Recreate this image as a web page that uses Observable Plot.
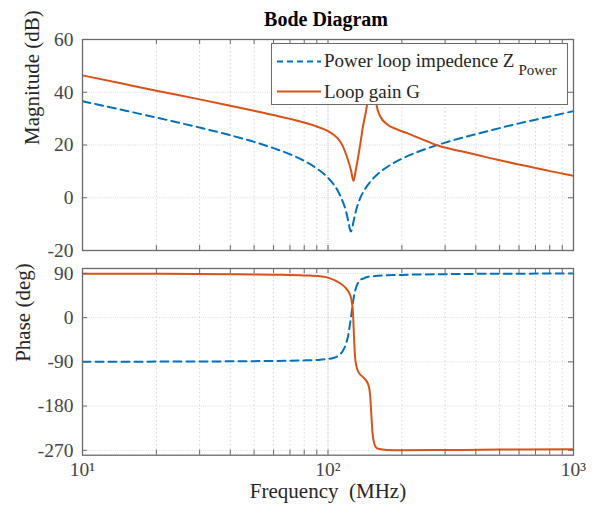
<!DOCTYPE html>
<html><head><meta charset="utf-8">
<script src="https://cdn.jsdelivr.net/npm/d3@7"></script>
<script src="https://cdn.jsdelivr.net/npm/@observablehq/plot@0.6"></script>
<style>
body{margin:0;background:#fff;}
#wrap{position:relative;width:598px;height:519px;font-family:"Liberation Serif",serif;overflow:hidden;}
#title{position:absolute;left:326px;top:9px;transform:translateX(-50%);font-weight:bold;font-size:20px;line-height:20px;color:#000;white-space:nowrap;}
#legend{position:absolute;left:271px;top:43px;width:297px;height:62px;box-sizing:border-box;border:1px solid #6b6b6b;background:#fff;}
#legend svg{position:absolute;left:0;top:0;}
</style></head>
<body>
<div id="wrap">
  <div id="title">Bode Diagram</div>
</div>
<script>
// ---------- data ----------
const seriesNames = ["Power loop impedence Z", "Loop gain G"];
const subscriptText = "Power";

// Power loop impedance Z – magnitude (MHz, dB)
const zFreq = [10, 15, 20, 30, 40, 50, 60, 70, 80, 90, 100, 105, 110, 115, 118, 121, 123, 124, 125, 127, 130, 135, 140, 150, 160, 180, 200, 250, 300, 400, 500, 600, 700, 800, 900, 1000];
const zMag  = [36.6, 33.0, 30.4, 26.6, 23.7, 21.2, 18.8, 16.5, 14.0, 11.1, 7.6, 5.3, 2.4, -1.6, -4.6, -9.0, -12.2, -12.8, -12.1, -9.1, -4.9, -0.3, 2.6, 6.5, 9.1, 12.5, 14.8, 18.5, 20.9, 24.1, 26.4, 28.2, 29.6, 30.8, 31.9, 32.8];

// Loop gain G – magnitude (MHz, dB)
const gFreq = [10, 15, 20, 30, 40, 50, 60, 70, 80, 90, 100, 105, 110, 115, 120, 124, 127, 130, 135, 139, 144, 147, 150, 153, 156, 158, 163, 174, 190, 210, 250, 282, 350, 418, 500, 600, 700, 800, 900, 1000];
const gMag  = [46.4, 43.0, 40.6, 37.3, 34.9, 33.0, 31.4, 29.9, 28.5, 27.0, 25.3, 24.0, 22.3, 19.5, 15.0, 10.5, 6.4, 10.9, 19.7, 27.3, 34.8, 42, 50, 48, 40, 34.8, 31.0, 27.9, 26.0, 24.5, 21.6, 19.7, 17.6, 15.9, 14.2, 12.6, 11.3, 10.1, 9.2, 8.3];

// Z phase (MHz, deg)
const zpFreq = [10, 20, 50, 80, 93, 100, 105, 110, 113, 116, 119, 121, 123, 125, 127, 129.5, 132, 135, 140, 146, 160, 200, 300, 500, 1000];
const zPhase = [-89.8, -89.5, -88.6, -87, -85.5, -84, -82, -78, -73, -64, -50, -35, -12, 12, 38, 58, 69, 76, 80, 83, 85, 87, 88.5, 89.3, 89.8];

// G phase (MHz, deg)
const gpFreq = [10, 20, 40, 60, 80, 93, 102, 112, 119.6, 123, 124.6, 126.6, 127.6, 128.8, 131, 133.5, 139.5, 144.6, 147, 148.5, 150, 151.7, 154.5, 157, 160.3, 174, 200, 300, 500, 1000];
const gPhase = [89.5, 89.2, 88.5, 87.5, 86, 84, 80, 70, 57, 46, 36, 3, -38, -78, -102, -112, -122, -132, -142, -159, -193, -233, -257, -264, -267, -269.5, -270, -269.5, -268.5, -268];

// ticks
const xMajor = [10, 100, 1000];
const xMinor = [20, 30, 40, 50, 60, 70, 80, 90, 200, 300, 400, 500, 600, 700, 800, 900];
const xLabels = ["10\u00b9", "10\u00b2", "10\u00b3"];
const magTicks = [-20, 0, 20, 40, 60];
const phaseTicks = [-270, -180, -90, 0, 90];
const xLabel = "Frequency\u00a0 (MHz)";
const magLabel = "Magnitude (dB)";
const phaseLabel = "Phase (deg)";

// ---------- style ----------
const FONT = "Liberation Serif";
const blue = "#0072BD", orange = "#D95319";
const frameColor = "#6a6a6a", textColor = "#454545";
const W = 598, mL = 82, mR = 25;
const plotW = W - mL - mR;

const toRows = (xs, ys) => xs.map((f, i) => ({f, v: ys[i]}));

function panel({height, mT, mB, yDomain, yTicks, yLabel, labelDx, z, g, bottomAxis}) {
  const plotH = height - mT - mB;
  const marks = [
    Plot.ruleY(yTicks, {stroke: "#cfcfcf", strokeWidth: 0.8, strokeDasharray: "1,1.2"}),
    Plot.ruleX(xMinor, {stroke: "#cdcdcd", strokeWidth: 0.8, strokeDasharray: "1.5,2.5"}),
    Plot.ruleX([100], {stroke: "#b5b5b5", strokeWidth: 0.9, strokeDasharray: "1,1"}),
    Plot.line(z, {x: "f", y: "v", stroke: blue, strokeWidth: 2, strokeDasharray: "8,5", curve: "monotone-x", clip: true}),
    Plot.line(g, {x: "f", y: "v", stroke: orange, strokeWidth: 2, curve: "monotone-x", clip: true}),
    // inward ticks on all four sides
    Plot.ruleX(xMajor.concat(xMinor), {stroke: frameColor, strokeWidth: 1, insetBottom: plotH - 5}),
    Plot.ruleX(xMajor.concat(xMinor), {stroke: frameColor, strokeWidth: 1, insetTop: plotH - 5}),
    Plot.ruleY(yTicks, {stroke: frameColor, strokeWidth: 1, insetRight: plotW - 5}),
    Plot.ruleY(yTicks, {stroke: frameColor, strokeWidth: 1, insetLeft: plotW - 5}),
    Plot.frame({stroke: frameColor, strokeWidth: 1.3}),
    Plot.axisY(yTicks, {tickSize: 0, tickPadding: 9, tickFormat: d => String(d), label: null, fill: textColor, fontFamily: FONT, fontSize: 19.5}),
    Plot.text([yLabel], {frameAnchor: "left", dx: labelDx, rotate: -90, fill: "#262626", fontFamily: FONT, fontSize: 21})
  ];
  if (bottomAxis) {
    marks.push(Plot.axisX(xMajor, {anchor: "bottom", tickSize: 0, tickPadding: 7, tickFormat: d => xLabels[xMajor.indexOf(d)], label: null, fill: textColor, fontFamily: FONT, fontSize: 19.5}));
    marks.push(Plot.text([xLabel], {frameAnchor: "bottom", dy: 43, fill: "#262626", fontFamily: FONT, fontSize: 21}));
  }
  return Plot.plot({
    width: W, height,
    marginLeft: mL, marginRight: mR, marginTop: mT, marginBottom: mB,
    style: {fontFamily: FONT, fontSize: "20px", color: textColor, background: "transparent", overflow: "visible"},
    x: {type: "log", domain: [10, 1000], axis: null},
    y: {domain: yDomain, axis: null},
    marks
  });
}

const topChart = panel({height: 262, mT: 39, mB: 12, yDomain: [-20, 60], yTicks: magTicks, yLabel: magLabel, labelDx: -50,
  z: toRows(zFreq, zMag), g: toRows(gFreq, gMag), bottomAxis: false});
const botChart = panel({height: 257, mT: 6, mB: 64.3, yDomain: [-280, 100], yTicks: phaseTicks, yLabel: phaseLabel, labelDx: -59,
  z: toRows(zpFreq, zPhase), g: toRows(gpFreq, gPhase), bottomAxis: true});

const wrap = document.getElementById("wrap");
topChart.style.position = "absolute"; topChart.style.top = "0px"; topChart.style.left = "0px";
botChart.style.position = "absolute"; botChart.style.top = "262px"; botChart.style.left = "0px";
wrap.appendChild(topChart);
wrap.appendChild(botChart);

// legend (HTML overlay, opaque like MATLAB's)
const lg = document.createElement("div");
lg.id = "legend";
const ns = "http://www.w3.org/2000/svg";
const ls = document.createElementNS(ns, "svg");
ls.setAttribute("width", 297); ls.setAttribute("height", 62);
ls.innerHTML =
  `<line x1="5" x2="49" y1="17.5" y2="17.5" stroke="${blue}" stroke-width="2" stroke-dasharray="6,4"/>` +
  `<line x1="5" x2="49" y1="47.5" y2="47.5" stroke="${orange}" stroke-width="2"/>` +
  `<text x="52" y="23" font-family="${FONT}" font-size="19" fill="#262626">${seriesNames[0]}<tspan dx="4" dy="8" font-size="15">${subscriptText}</tspan></text>` +
  `<text x="52" y="54" font-family="${FONT}" font-size="19" fill="#262626">${seriesNames[1]}</text>`;
lg.appendChild(ls);
wrap.appendChild(lg);
</script>
</body></html>
